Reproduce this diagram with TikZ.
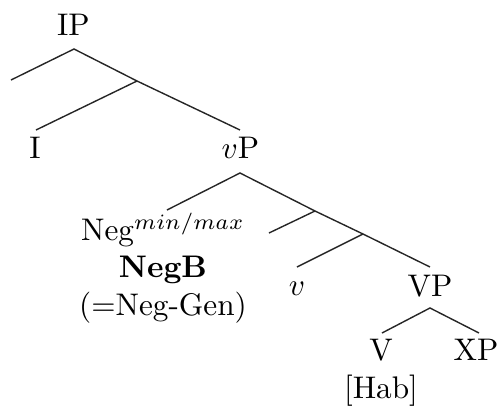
\documentclass[tikz,border=0pt]{standalone}
\usepackage{amsmath}
\usepackage{tikz}
\tikzset{
	cat/.style={inner sep=0pt, anchor=base, font=\normalsize},
	branch/.style={line width=0.45pt, black!85},
}
\begin{document}
\begin{tikzpicture}[x=0.32pt, y=-0.32pt]
		\useasboundingbox (0,0) rectangle (500,406);
		\coordinate (ip) at (74,49);
		\coordinate (ipspec) at (11,80);
		\coordinate (ibar) at (137,81);
		\coordinate (iend) at (36,130);
		\coordinate (vpend) at (240,130);
		\coordinate (vp) at (240,173);
		\coordinate (negend) at (167,210);
		\coordinate (vbarA) at (315,211);
		\coordinate (vspec) at (269,233);
		\coordinate (vbarB) at (363,234);
		\coordinate (vend) at (297,267);
		\coordinate (VPend) at (430,267);
		\coordinate (VPtop) at (430,308);
		\coordinate (Vend) at (382,333);
		\coordinate (XPend) at (479,333);
		\node[cat] (IP) at (73.5,35) {IP};
		\node[cat] (I) at (35,158) {I};
		\node[cat] (vP) at (240.5,158) {$v$P};
		\node[align=center, inner sep=0pt] (Neg) at (163,268) {Neg$^{min/max}$\\\textbf{NegB}\\(=Neg-Gen)};
		\node[cat] (v) at (297,295) {$v$};
		\node[cat] (VP) at (430,296) {VP};
		\node[cat] (V) at (381,360) {V};
		\node[cat] (XP) at (476,360) {XP};
		\node[cat] (Hab) at (381,398) {[Hab]};
		\draw[branch] (ipspec) -- (ip) -- (ibar) -- (vpend);
		\draw[branch] (ibar) -- (iend);
		\draw[branch] (negend) -- (vp) -- (vbarA) -- (vbarB) -- (VPend);
		\draw[branch] (vbarA) -- (vspec);
		\draw[branch] (vbarB) -- (vend);
		\draw[branch] (Vend) -- (VPtop) -- (XPend);
	\end{tikzpicture}
\end{document}
